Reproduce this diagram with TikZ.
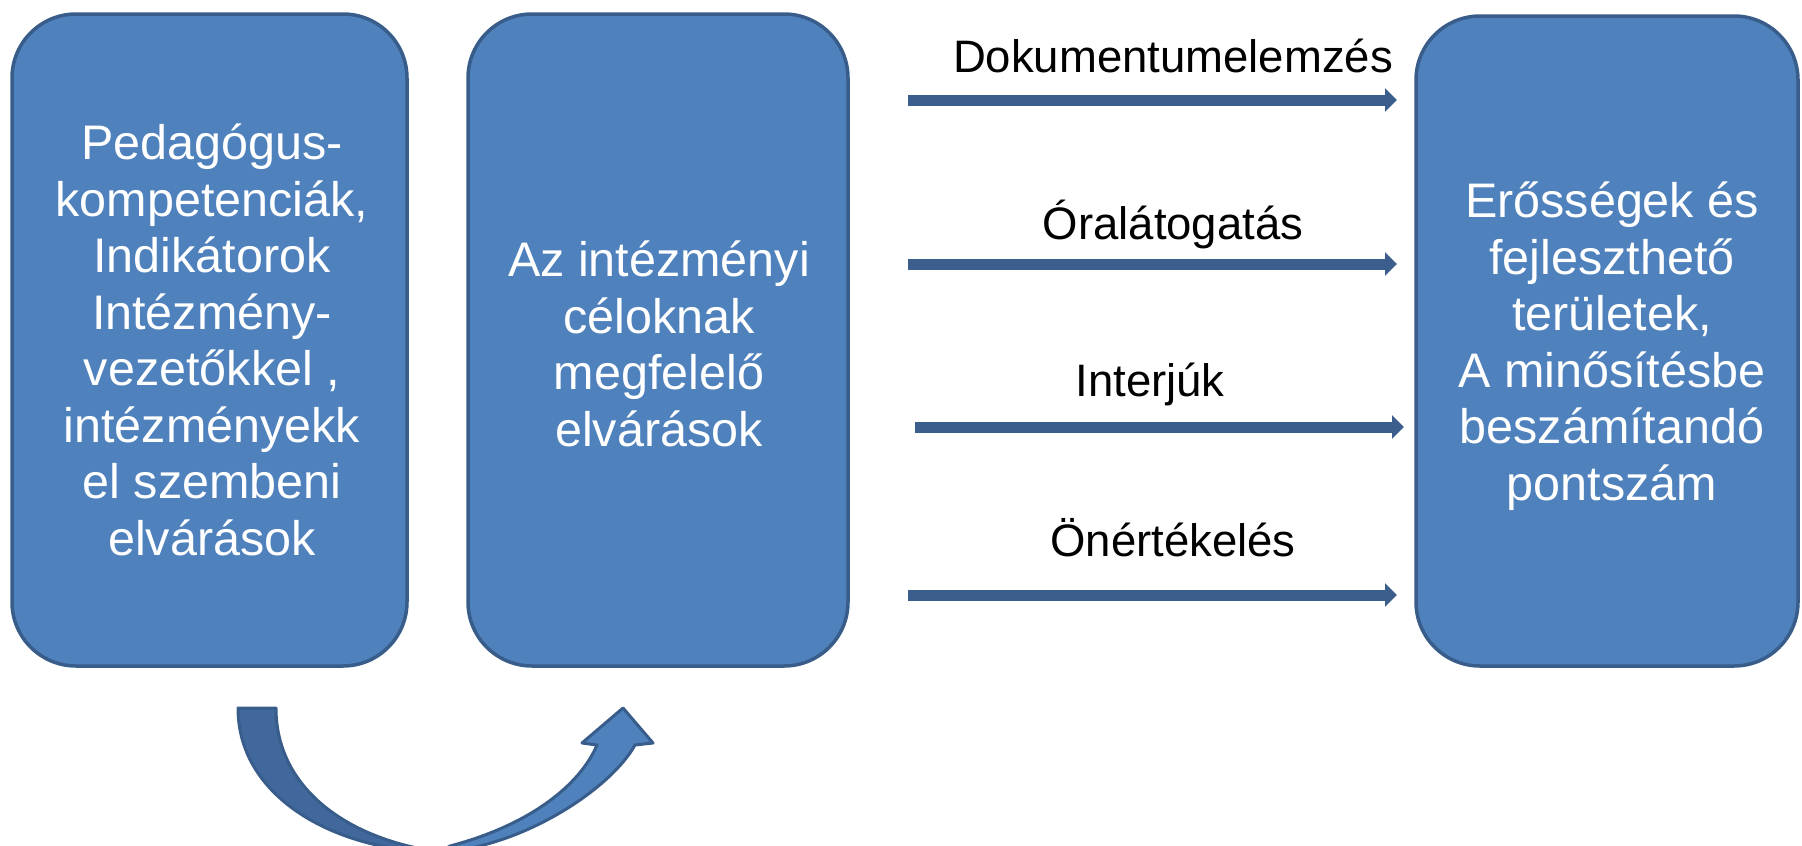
\documentclass[tikz,border=0pt]{standalone}
\usepackage{fontspec}
\setmainfont{Liberation Sans}
\usetikzlibrary{arrows.meta}
\definecolor{boxfill}{HTML}{4F81BD}
\definecolor{boxline}{HTML}{385D8A}
\definecolor{darkfill}{HTML}{41689C}
\definecolor{arrline}{HTML}{3B5E8C}
\tikzset{
  bluebox/.style={draw=boxline, fill=boxfill, line width=3.5pt, rounded corners=64pt},
  boxtext/.style={text=white, align=center, font=\fontsize{48.5}{56.5}\selectfont},
  lbl/.style={anchor=base, font=\fontsize{45.5}{50}\selectfont, text=black},
  flow/.style={draw=arrline, line width=11pt, -{Triangle[width=23pt,length=12pt]}},
  curvarrow/.style={draw=boxline, line width=3pt, line join=round}
}
\begin{document}
\begin{tikzpicture}[x=1pt,y=-1pt]
\useasboundingbox (0,0) rectangle (1802,846);
% boxes
\draw[bluebox] (12,14) rectangle (407,666);
\draw[bluebox] (468,14) rectangle (848,666);
\draw[bluebox] (1416,16) rectangle (1798,666);
\node[boxtext] (b1) at (212,340) {Pedagógus-\\kompetenciák,\\Indikátorok\\Intézmény-\\vezetőkkel ,\\intézményekk\\el szembeni\\elvárások};
\node[boxtext] (b2) at (659,344) {Az intézményi\\céloknak\\megfelelő\\elvárások};
\node[boxtext] (b3) at (1612,346) {Erősségek és\\fejleszthető\\területek,\\A minősítésbe\\beszámítandó\\pontszám};
% straight arrows
\coordinate (s1) at (908,100);  \coordinate (e1) at (1397,100);
\coordinate (s2) at (908,264);  \coordinate (e2) at (1397,264);
\coordinate (s3) at (915,427);  \coordinate (e3) at (1404,427);
\coordinate (s4) at (908,595);  \coordinate (e4) at (1397,595);
\draw[flow] (s1) -- (e1);
\draw[flow] (s2) -- (e2);
\draw[flow] (s3) -- (e3);
\draw[flow] (s4) -- (e4);
\node[lbl] (l1) at (1173,72) {Dokumentumelemzés};
\node[lbl] (l2) at (1173,239) {Óralátogatás};
\node[lbl] (l3) at (1150,396) {Interjúk};
\node[lbl] (l4) at (1173,556) {Önértékelés};
% curved arrow
\begin{scope}
\clip (0,0) rectangle (1802,846);
\filldraw[curvarrow, fill=darkfill] (238,708) .. controls (238,800) and (340,852) .. (440,852)
  .. controls (350,840) and (276,790) .. (276,708) -- cycle;
\filldraw[curvarrow, fill=boxfill] (440,852) .. controls (520,848) and (610,790) .. (635,745)
  -- (653,743) -- (623,708) -- (582,743) -- (597,745)
  .. controls (580,785) and (530,825) .. (450,846) -- cycle;
\end{scope}
\end{tikzpicture}
\end{document}
